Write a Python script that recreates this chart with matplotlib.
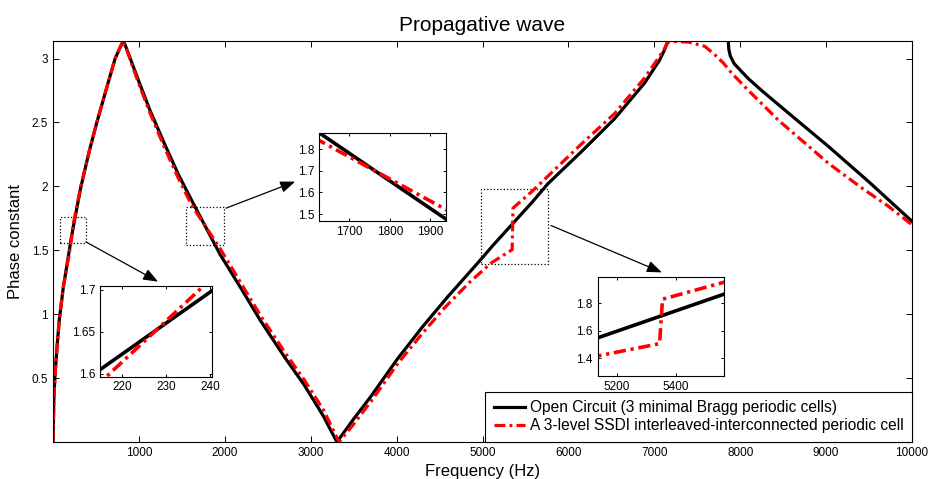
import numpy as np
import matplotlib
matplotlib.use('Agg')
import matplotlib.pyplot as plt
from matplotlib.patches import Rectangle
from matplotlib.ticker import FormatStrFormatter

plt.rcParams['font.family'] = ['Liberation Sans', 'DejaVu Sans']

# open circuit, 3 minimal Bragg cells (nan = band gap, phase sits on pi)
f_black = [0, 10, 23, 50, 74, 120, 190, 212, 242, 323, 420, 510, 620, 723, 790, 820,
           900, 1000, 1132, 1300, 1462, 1620, 1945, 2200, 2415, 2700, 2921, 3150, 3305,
           3500, 3699, 4010, 4300, 4600, 4944, 5120, 5580, 5760, 6149, 6538, 6888, 7063, 7120, 7160,
           np.nan,
           7861, 7868, 7885, 7930, 8000, 8100, 8250, 8561, 9028, 9494, 10000]
phi_black = [0, 0.33, 0.52, 0.77, 0.96, 1.21, 1.50, 1.594, 1.705, 1.99, 2.27, 2.50, 2.76, 3.00, 3.10, 3.1416,
             3.00, 2.82, 2.59, 2.33, 2.09, 1.883, 1.468, 1.19, 0.95, 0.66, 0.45, 0.20, 0.0,
             0.18, 0.355, 0.65, 0.90, 1.14, 1.40, 1.537, 1.878, 2.02, 2.27, 2.53, 2.81, 2.99, 3.07, 3.1416,
             np.nan,
             3.1416, 3.07, 3.02, 2.96, 2.91, 2.84, 2.75, 2.574, 2.312, 2.038, 1.727]

# 3-level SSDI interleaved-interconnected cell
f_red = [0, 10, 23, 50, 74, 120, 190, 212, 242, 323, 420, 510, 620, 723, 790, 820,
         900, 1000, 1132, 1300, 1462, 1620, 1945, 2200, 2415, 2700, 2921, 3150, 3330,
         3500, 3699, 4010, 4300, 4554, 4850, 5099, 5120, 5345, 5355, 5580, 6149, 6538, 6888, 7063, 7121,
         7150, 7180, 7394, 7588, 7705, 7803, 7900, 8094, 8444, 9028, 9417, 9728, 10000]
phi_red = [0, 0.33, 0.52, 0.77, 0.96, 1.21, 1.48, 1.575, 1.722, 2.00, 2.27, 2.50, 2.76, 3.00, 3.10, 3.1416,
           2.99, 2.80, 2.57, 2.30, 2.06, 1.846, 1.514, 1.23, 0.99, 0.70, 0.49, 0.25, 0.0,
           0.14, 0.315, 0.61, 0.85, 1.047, 1.25, 1.40, 1.409, 1.505, 1.83, 1.963, 2.33, 2.57, 2.85, 3.02, 3.08,
           3.12, 3.135, 3.13, 3.096, 3.03, 2.966, 2.887, 2.752, 2.518, 2.18, 1.987, 1.843, 1.70]

labels = ['Open Circuit (3 minimal Bragg periodic cells)',
          'A 3-level SSDI interleaved-interconnected periodic cell']

x_ticks = [1000, 2000, 3000, 4000, 5000, 6000, 7000, 8000, 9000, 10000]
y_ticks = [0.5, 1, 1.5, 2, 2.5, 3]

# zoom windows drawn on the main plot (freq range, phase range)
box_f = [(82, 382), (1548, 1995), (4983, 5768)]
box_phi = [(1.556, 1.764), (1.543, 1.835), (1.396, 1.979)]

# inset limits and ticks
ins_xlim = [(215, 240.3), (1626, 1939), (5134, 5563)]
ins_ylim = [(1.597, 1.705), (1.468, 1.877), (1.27, 1.99)]
ins_xticks = [[220, 230, 240], [1700, 1800, 1900], [5200, 5400]]
ins_yticks = [[1.6, 1.65, 1.7], [1.5, 1.6, 1.7, 1.8], [1.4, 1.6, 1.8]]

red_ls = (0, (3.4, 1.3, 0.9, 1.3))


def style(a, size, ticklen):
    a.tick_params(direction='in', top=True, right=True, labelsize=size,
                  length=ticklen, width=0.7, pad=3.5)
    for s in a.spines.values():
        s.set_linewidth(0.8)


fig = plt.figure(figsize=(9.3, 4.79), dpi=100)
ax = fig.add_axes([53 / 930, 1 - 442 / 479, 859 / 930, 401.5 / 479])
ax.plot(f_black, phi_black, color='k', lw=2.3, label=labels[0])
ax.plot(f_red, phi_red, color='r', lw=2.3, ls=red_ls, label=labels[1])
ax.set_xlim(0, 10000)
ax.set_ylim(0, np.pi)
ax.set_xticks(x_ticks)
ax.set_yticks(y_ticks)
ax.yaxis.set_major_formatter(FormatStrFormatter('%g'))
style(ax, 8.5, 4)
ax.set_title('Propagative wave', fontsize=15, pad=7)
ax.set_xlabel('Frequency (Hz)', fontsize=12, labelpad=4)
ax.set_ylabel('Phase constant', fontsize=12, labelpad=6)

leg = ax.legend(loc='lower right', borderaxespad=0, fancybox=False, edgecolor='k',
                framealpha=1, fontsize=11.2, handlelength=2.0, handletextpad=0.3,
                borderpad=0.55, labelspacing=0.2)
leg.get_frame().set_linewidth(0.8)

for (f0, f1), (p0, p1) in zip(box_f, box_phi):
    ax.add_patch(Rectangle((f0, p0), f1 - f0, p1 - p0, fill=False, ls=':', lw=0.9, ec='k'))

ins_pos = [[100 / 930, 1 - 376.5 / 479, 111.7 / 930, 90.8 / 479],
           [319.3 / 930, 1 - 221 / 479, 127 / 930, 88.5 / 479],
           [597.7 / 930, 1 - 375.8 / 479, 125.8 / 930, 98.5 / 479]]
arrow_tip = [(0.52, 1.045), (-0.19, 0.445), (0.51, 1.05)]
arrow_start = [(box_f[0][1], box_phi[0][0] + 0.01),
               (box_f[1][1] + 20, box_phi[1][1] - 0.005),
               (box_f[2][1] + 30, 1.694)]

for i in range(3):
    ins = fig.add_axes(ins_pos[i])
    ins.plot(f_black, phi_black, color='k', lw=2.6)
    ins.plot(f_red, phi_red, color='r', lw=2.6, ls=red_ls)
    ins.set_xlim(*ins_xlim[i])
    ins.set_ylim(*ins_ylim[i])
    ins.set_xticks(ins_xticks[i])
    ins.set_yticks(ins_yticks[i])
    ins.yaxis.set_major_formatter(FormatStrFormatter('%g'))
    style(ins, 8.5, 2.5)
    ax.annotate('', xy=arrow_tip[i], xycoords=ins.transAxes,
                xytext=arrow_start[i], textcoords='data',
                arrowprops=dict(arrowstyle='-|>,head_length=0.9,head_width=0.35',
                                mutation_scale=10, lw=0.9, color='k',
                                shrinkA=0, shrinkB=0))

fig.savefig('out.png', dpi=100)
